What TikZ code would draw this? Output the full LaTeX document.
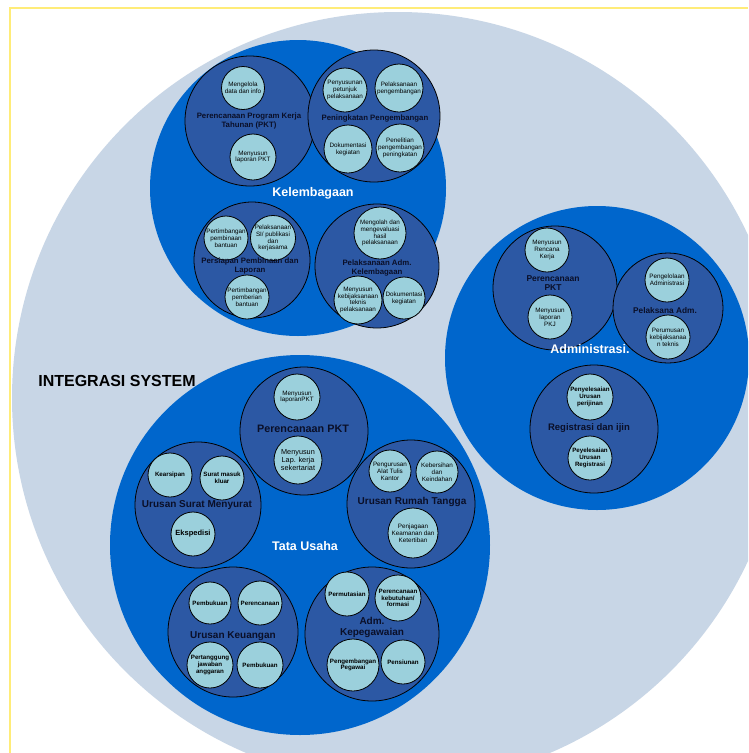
\documentclass[tikz,border=0pt]{standalone}
\usepackage{fontspec}
\setmainfont{Liberation Sans}
\definecolor{bgc}{RGB}{200,214,230}
\definecolor{midb}{RGB}{0,102,204}
\definecolor{darkb}{RGB}{44,88,164}
\definecolor{lightb}{RGB}{155,208,220}
\definecolor{framey}{RGB}{255,236,120}
\definecolor{labc}{RGB}{10,15,40}
\tikzset{
  bigc/.style={circle,fill=midb,inner sep=0pt},
  subc/.style={circle,fill=darkb,draw=black,line width=0.8pt,inner sep=0pt},
  leaf/.style={circle,fill=lightb,draw=black,line width=0.8pt,inner sep=0pt,align=center,font=\fontsize{6.3}{6.9}\selectfont},
  leafb/.style={leaf,font=\fontsize{6.2}{6.8}\selectfont\bfseries},
  sublab/.style={align=center,font=\fontsize{7.8}{8.6}\selectfont\bfseries,text=labc},
  sublabL/.style={align=center,font=\fontsize{10}{11}\selectfont\bfseries,text=labc},
  biglab/.style={font=\fontsize{12.5}{14}\selectfont\bfseries,text=white},
}
\begin{document}
\begin{tikzpicture}[x=1pt,y=-1pt]
\useasboundingbox (0,0) rectangle (748,753);
\fill[white] (0,0) rectangle (748,753);
\begin{scope}
\clip (0,0) rectangle (748,753);
\fill[bgc] (398,398) circle[radius=386];
\end{scope}
\draw[framey,line width=1.5pt] (10,753) -- (10,8) -- (748,8);
\node[font=\fontsize{16}{18}\selectfont\bfseries] (integ) at (117,381) {INTEGRASI SYSTEM};

% big blue circles
\node[bigc,minimum size=296pt] (kel) at (298,188) {};
\begin{scope}
\clip (0,0) rectangle (748,753);
\node[bigc,minimum size=304pt] (adm) at (597,358) {};
\end{scope}
\node[bigc,minimum size=380pt] (tu) at (300,545) {};

% ---------- Kelembagaan ----------
\node[subc,minimum size=130pt] (k1) at (250,121) {};
\node[leaf,minimum size=43pt] (k1a) at (243,88) {Mengelola\\data dan info};
\node[leaf,minimum size=46pt] (k1b) at (253,157) {Menyusun\\laporan PKT};
\node[sublab] (k1l) at (249,121) {Perencanaan Program Kerja\\Tahunan (PKT)};

\node[subc,minimum size=132pt] (k2) at (374,116) {};
\node[leaf,minimum size=44pt] (k2a) at (345,90) {Penyusunan\\petunjuk\\pelaksanaan};
\node[leaf,minimum size=48pt] (k2b) at (399,88) {Pelaksanaan\\pengembangan};
\node[leaf,minimum size=48pt] (k2c) at (348,149) {Dokumentasi\\kegiatan};
\node[leaf,minimum size=48pt] (k2d) at (400,148) {Penelitian\\pengembangan\\peningkatan};
\node[sublab] (k2l) at (375,118) {Peningkatan Pengembangan};

\node[subc,minimum size=116pt] (k3) at (252,260) {};
\node[leaf,minimum size=44pt] (k3a) at (226,238) {Pertimbangan\\pembinaan\\bantuan};
\node[leaf,minimum size=44pt] (k3b) at (273,238) {Pelaksanaan\\SI/ publikasi\\dan\\kerjasama};
\node[leaf,minimum size=44pt] (k3c) at (247,297) {Pertimbangan\\pemberian\\bantuan};
\node[sublab] (k3l) at (250,266) {Persiapan Pembinaan dan\\Laporan};

\node[subc,minimum size=124pt] (k4) at (377,266) {};
\node[leaf,minimum size=52pt] (k4a) at (380,233) {Mengolah dan\\mengevaluasi\\hasil\\pelaksanaan};
\node[leaf,minimum size=46pt] (k4b) at (358,300) {Menyusun\\kebijaksanaan\\teknis\\pelaksanaan};
\node[leaf,minimum size=42pt] (k4c) at (404,298) {Dokumentasi\\kegiatan};
\node[sublab] (k4l) at (377,268) {Pelaksanaan Adm.\\Kelembagaan};

\node[biglab] (kell) at (313,193) {Kelembagaan};

% ---------- Administrasi ----------
\node[subc,minimum size=124pt] (a1) at (555,288) {};
\node[leaf,minimum size=44pt] (a1a) at (547,250) {Menyusun\\Rencana\\Kerja};
\node[leaf,minimum size=44pt] (a1b) at (550,317) {Menyusun\\laporan\\PKJ};
\node[sublab,font=\fontsize{8.5}{9.5}\selectfont\bfseries] (a1l) at (553,283) {Perencanaan\\PKT};

\node[subc,minimum size=110pt] (a2) at (668,308) {};
\node[leaf,minimum size=44pt] (a2a) at (667,280) {Pengelolaan\\Administrasi};
\node[leaf,minimum size=44pt] (a2b) at (668,337) {Perumusan\\kebijaksanaa\\n teknis};
\node[sublab,font=\fontsize{8.3}{9}\selectfont\bfseries] (a2l) at (665,311) {Pelaksana Adm.};

\node[subc,minimum size=128pt] (a3) at (594,429) {};
\node[leafb,minimum size=46pt] (a3a) at (590,397) {Penyelesaian\\Urusan\\perijinan};
\node[leafb,minimum size=44pt] (a3b) at (590,458) {Peyelesaian\\Urusan\\Registrasi};
\node[sublab,font=\fontsize{9.5}{11}\selectfont\bfseries] (a3l) at (589,428) {Registrasi dan ijin};

\node[biglab] (adml) at (590,349) {Administrasi.};

% ---------- Tata Usaha ----------
\node[subc,minimum size=128pt] (t1) at (304,431) {};
\node[leaf,minimum size=46pt] (t1a) at (297,397) {Menyusun\\laporanPKT};
\node[leaf,minimum size=48pt,font=\fontsize{7.3}{8.3}\selectfont] (t1b) at (298,460) {Menyusun\\Lap. kerja\\sekertariat};
\node[sublabL,font=\fontsize{10.8}{12}\selectfont\bfseries] (t1l) at (303,429) {Perencanaan PKT};

\node[subc,minimum size=126pt] (t2) at (198,505) {};
\node[leafb,minimum size=44pt] (t2a) at (170,475) {Kearsipan};
\node[leafb,minimum size=44pt] (t2b) at (222,478) {Surat masuk\\kluar};
\node[leafb,minimum size=44pt,font=\fontsize{7.5}{8.5}\selectfont\bfseries] (t2c) at (193,534) {Ekspedisi};
\node[sublabL] (t2l) at (197,505) {Urusan Surat Menyurat};

\node[subc,minimum size=128pt] (t3) at (411,504) {};
\node[leaf,minimum size=42pt] (t3a) at (390,471) {Pengurusan\\Alat Tulis\\Kantor};
\node[leaf,minimum size=42pt] (t3b) at (437,472) {Kebersihan\\dan\\Keindahan};
\node[leaf,minimum size=50pt] (t3c) at (413,533) {Penjagaan\\Keamanan dan\\Ketertiban};
\node[sublabL] (t3l) at (412,502) {Urusan Rumah Tangga};

\node[subc,minimum size=130pt] (t4) at (233,632) {};
\node[leafb,minimum size=42pt] (t4a) at (210,603) {Pembukuan};
\node[leafb,minimum size=44pt] (t4b) at (260,603) {Perencanaan};
\node[leafb,minimum size=46pt] (t4c) at (210,665) {Pertanggung\\jawaban\\anggaran};
\node[leafb,minimum size=46pt] (t4d) at (260,665) {Pembukuan};
\node[sublabL] (t4l) at (233,636) {Urusan Keuangan};

\node[subc,minimum size=134pt] (t5) at (372,634) {};
\node[leafb,minimum size=44pt] (t5a) at (347,594) {Permutasian};
\node[leafb,minimum size=46pt] (t5b) at (398,598) {Perencanaan\\kebutuhan/\\formasi};
\node[leafb,minimum size=52pt] (t5c) at (353,665) {Pengembangan\\Pegawai};
\node[leafb,minimum size=44pt] (t5d) at (403,662) {Pensiunan};
\node[sublabL] (t5l) at (372,627) {Adm.\\Kepegawaian};

\node[biglab] (tul) at (305,546) {Tata Usaha};
\end{tikzpicture}
\end{document}
